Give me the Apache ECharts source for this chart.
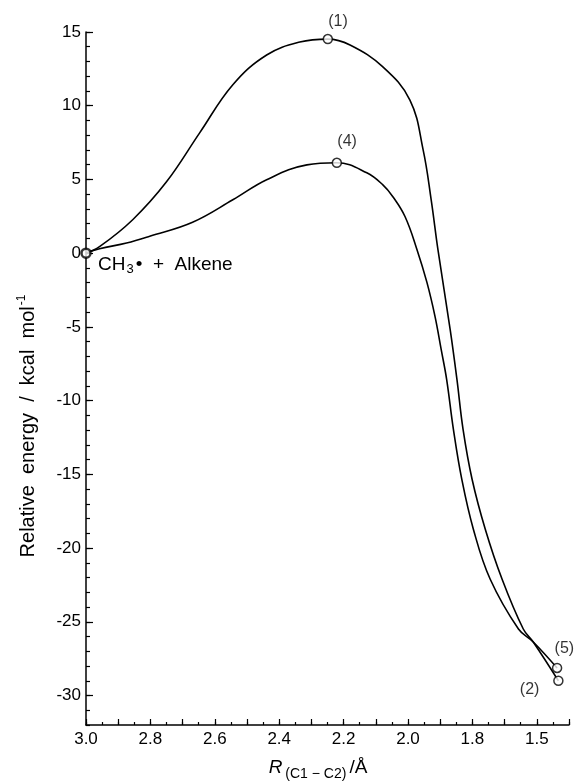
<!DOCTYPE html>
<html>
<head>
<meta charset="utf-8">
<script src="https://cdn.jsdelivr.net/npm/echarts@6/dist/echarts.min.js"></script>
<style>
html,body{margin:0;padding:0;background:#fff;}
#chart{width:579px;height:781px;}
</style>
</head>
<body>
<div id="chart"></div>
<script>
// ---- data ----
const curve1R = [3.0, 2.958, 2.855, 2.750, 2.647, 2.544, 2.439, 2.336, 2.249, 2.180, 2.078, 1.994, 1.953, 1.928, 1.907, 1.869, 1.848, 1.829, 1.801, 1.760, 1.708, 1.642, 1.611, 1.533];
const curve1E = [0, 0.44, 2.27, 4.84, 8.16, 11.42, 13.44, 14.32, 14.52, 14.12, 12.63, 10.38, 7.01, 3.62, 0.24, -5.18, -8.56, -11.95, -15.33, -18.72, -22.1, -25.49, -26.37, -29.0];
const curve4R = [3.0, 2.958, 2.874, 2.802, 2.669, 2.544, 2.439, 2.314, 2.221, 2.128, 2.078, 2.047, 2.009, 1.972, 1.941, 1.916, 1.897, 1.880, 1.859, 1.833, 1.797, 1.745, 1.657, 1.611, 1.537];
const curve4E = [0, 0.30, 0.69, 1.15, 2.10, 3.62, 4.98, 5.99, 6.13, 5.45, 4.63, 3.83, 2.47, 0.24, -2.0, -4.3, -6.53, -8.56, -11.95, -15.33, -18.72, -22.1, -25.49, -26.37, -28.13];
const markerR = [2.249, 2.221, 1.537, 1.533, 3.0];
const markerE = [14.52, 6.13, -28.13, -29.0, 0];
const markerLabels = ['(1)', '(4)', '(5)', '(2)', ''];
const yMajorTicks = [-30, -25, -20, -15, -10, -5, 0, 5, 10, 15];
const yMinorTicks = [];
for (let v = -32; v <= 15; v++) yMinorTicks.push(v);
const xTickValues = [3.0, 2.8, 2.6, 2.4, 2.2, 2.0, 1.8, 1.6];
const xTickLabels = ['3.0', '2.8', '2.6', '2.4', '2.2', '2.0', '1.8', '1.5'];
const xMajorTicks = [];
for (let i = 15; i <= 30; i++) xMajorTicks.push(+(i / 10).toFixed(1));

// ---- label placement (style, not data) ----
const labelOffsets = [[11, -17], [11, -20], [8, -19], [-28, 10], [0, 0]];

const pairs = (a, b) => a.map((v, i) => [v, b[i]]);
const FONT = 'Liberation Sans';
const chart = echarts.init(document.getElementById('chart'), null, {renderer: 'canvas'});

const symSize = 9;
const markerData = markerR.map((r, i) => ({
  value: [r, markerE[i]],
  label: {
    show: markerLabels[i] !== '',
    formatter: markerLabels[i],
    position: [labelOffsets[i][0] + symSize / 2, labelOffsets[i][1] + symSize / 2],
    align: 'center', verticalAlign: 'middle'
  },
  itemStyle: i === 4 ? {borderWidth: 2.5} : {}
}));

const option = {
  animation: false,
  backgroundColor: '#fff',
  grid: {left: 86, right: 10, top: 32, bottom: 56, containLabel: false},
  xAxis: [{
    type: 'value', inverse: true, min: 1.5, max: 3.0, interval: 0.05,
    axisLine: {show: true, onZero: false, lineStyle: {color: '#000', width: 1.5}},
    axisTick: {show: true, inside: true, length: 3, lineStyle: {color: '#000', width: 1.2}},
    axisLabel: {
      show: true, customValues: xTickValues, margin: 6,
      color: '#000', fontFamily: FONT, fontSize: 17,
      formatter: v => {
        const i = xTickValues.findIndex(t => Math.abs(t - v) < 1e-6);
        return i >= 0 ? xTickLabels[i] : '';
      }
    },
    splitLine: {show: false}
  }, {
    type: 'value', inverse: true, min: 1.5, max: 3.0, position: 'bottom', offset: 0,
    axisLine: {show: false, onZero: false},
    axisTick: {show: true, inside: true, length: 6, customValues: xMajorTicks, lineStyle: {color: '#000', width: 1.2}},
    axisLabel: {show: false},
    splitLine: {show: false}
  }],
  yAxis: [{
    type: 'value', min: -32, max: 15, interval: 1,
    axisLine: {show: true, onZero: false, lineStyle: {color: '#000', width: 1.5}},
    axisTick: {show: true, inside: true, length: 7, customValues: yMajorTicks, lineStyle: {color: '#000', width: 1.2}},
    axisLabel: {show: true, customValues: yMajorTicks, margin: 5, color: '#000', fontFamily: FONT, fontSize: 17},
    splitLine: {show: false}
  }, {
    type: 'value', min: -32, max: 15, interval: 1, position: 'left', offset: 0,
    axisLine: {show: false, onZero: false},
    axisTick: {show: true, inside: true, length: 4, customValues: yMinorTicks, lineStyle: {color: '#000', width: 1.2}},
    axisLabel: {show: false},
    splitLine: {show: false}
  }],
  series: [{
    type: 'line', name: 'curve1', data: pairs(curve1R, curve1E),
    smooth: 0.4, showSymbol: false, xAxisIndex: 0, yAxisIndex: 0,
    lineStyle: {color: '#000', width: 1.6}, clip: false
  }, {
    type: 'line', name: 'curve4', data: pairs(curve4R, curve4E),
    smooth: 0.4, showSymbol: false, xAxisIndex: 0, yAxisIndex: 0,
    lineStyle: {color: '#000', width: 1.6}, clip: false
  }, {
    type: 'scatter', name: 'points', data: markerData, xAxisIndex: 0, yAxisIndex: 0,
    symbol: 'circle', symbolSize: symSize, clip: false, z: 5,
    itemStyle: {color: '#fff', borderColor: '#000', borderWidth: 1.5},
    label: {color: '#000', fontFamily: FONT, fontSize: 16}
  }],
  graphic: [{
    type: 'text', left: 98, top: 255,
    style: {
      text: '{a|CH}{s|3}{a|•  +  Alkene}',
      rich: {
        a: {fontFamily: FONT, fontSize: 19, fill: '#000'},
        s: {fontFamily: FONT, fontSize: 13, fill: '#000', padding: [10, 2, 0, 1]}
      }
    }
  }, {
    type: 'text', x: 28, y: 426, rotation: Math.PI / 2,
    style: {
      text: '{a|Relative  energy  /  kcal  mol}{s|-1}',
      align: 'center', verticalAlign: 'middle',
      rich: {
        a: {fontFamily: FONT, fontSize: 20, fill: '#000'},
        s: {fontFamily: FONT, fontSize: 12, fill: '#000', padding: [0, 0, 13, 1]}
      }
    }
  }, {
    type: 'text', x: 318, y: 768,
    style: {
      text: '{r|R}{s|(C1 − C2)}{a|/Å}',
      align: 'center', verticalAlign: 'middle',
      rich: {
        r: {fontFamily: FONT, fontSize: 19, fontStyle: 'italic', fill: '#000'},
        s: {fontFamily: FONT, fontSize: 14, fill: '#000', padding: [12, 3, 0, 3]},
        a: {fontFamily: FONT, fontSize: 19, fill: '#000'}
      }
    }
  }]
};
chart.setOption(option);
</script>
</body>
</html>
